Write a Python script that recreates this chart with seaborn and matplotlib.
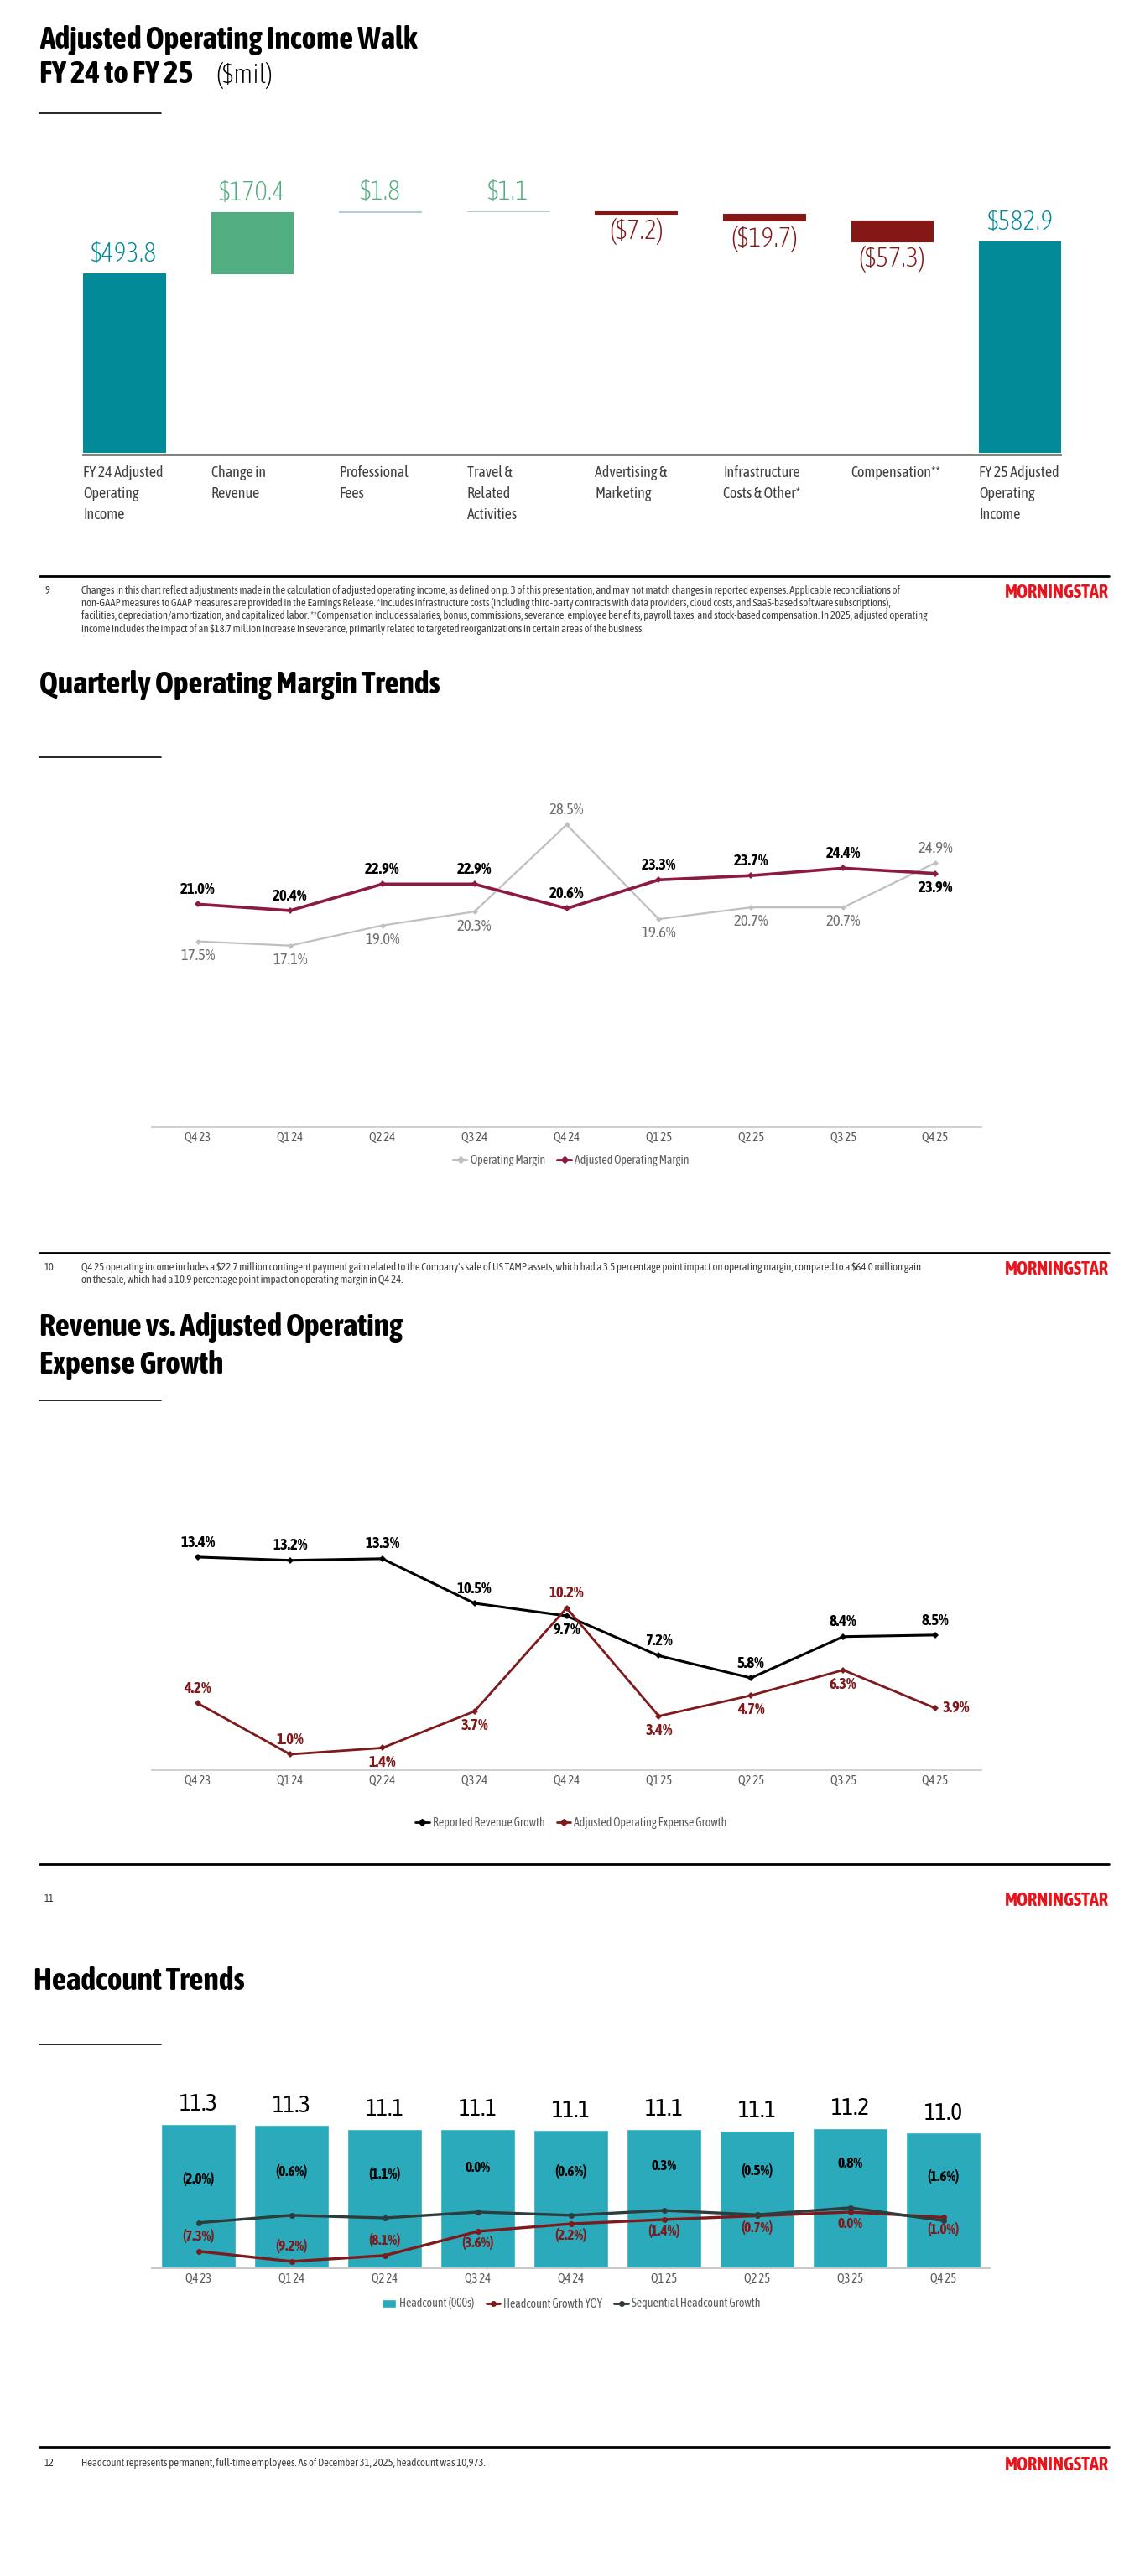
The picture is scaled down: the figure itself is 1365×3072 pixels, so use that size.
import matplotlib
matplotlib.use("Agg")
import matplotlib.pyplot as plt
import numpy as np
import seaborn as sns
from matplotlib.lines import Line2D
from matplotlib.patches import Patch

# ---------------------------------------------------------------------------
# Data
# ---------------------------------------------------------------------------
walk_labels = [
    "FY 24 Adjusted\nOperating\nIncome", "Change in\nRevenue", "Professional\nFees",
    "Travel &\nRelated\nActivities", "Advertising &\nMarketing",
    "Infrastructure\nCosts & Other*", "Compensation**", "FY 25 Adjusted\nOperating\nIncome",
]
walk_values = [493.8, 170.4, 1.8, 1.1, -7.2, -19.7, -57.3, 582.9]
walk_kind = ["total", "step", "step", "step", "step", "step", "step", "total"]

quarters = ["Q4 23", "Q1 24", "Q2 24", "Q3 24", "Q4 24", "Q1 25", "Q2 25", "Q3 25", "Q4 25"]
op_margin = [17.5, 17.1, 19.0, 20.3, 28.5, 19.6, 20.7, 20.7, 24.9]
adj_op_margin = [21.0, 20.4, 22.9, 22.9, 20.6, 23.3, 23.7, 24.4, 23.9]
rev_growth = [13.4, 13.2, 13.3, 10.5, 9.7, 7.2, 5.8, 8.4, 8.5]
opex_growth = [4.2, 1.0, 1.4, 3.7, 10.2, 3.4, 4.7, 6.3, 3.9]
headcount = [11.34, 11.28, 11.14, 11.14, 11.08, 11.12, 11.06, 11.16, 10.97]
hc_yoy = [-7.3, -9.2, -8.1, -3.6, -2.2, -1.4, -0.7, 0.0, -1.0]
hc_seq = [-2.0, -0.6, -1.1, 0.0, -0.6, 0.3, -0.5, 0.8, -1.6]

# label placement (style, not data)
adj_place = ["above"] * 8 + ["below"]
op_place = ["below", "below", "below", "below", "above", "below", "below", "below", "above"]
rev_place = ["above"] * 4 + ["below"] + ["above"] * 4
opex_place = ["above", "above", "below", "below", "above", "below", "below", "below", "right"]
yoy_place = ["above", "above", "above"] + ["below"] * 6

# colours
TEAL = "#028a98"
GREEN = "#52ae80"
PALE = "#b7ccd2"
DARKRED = "#861717"
ADJ = "#8b1a3d"
GRAY_LINE = "#c0c0c0"
EXP_RED = "#7e1a1c"
BAR4 = "#2aaabb"
SEQ = "#2f3c3c"
LOGO = "#e8141b"
TICK = "#595959"
TXT = "#404040"

FONT = ["Asap Condensed", "DejaVu Sans"]
sns.set_theme(style="white")
plt.rcParams["font.family"] = FONT

W, H = 1365, 3072
fig = plt.figure(figsize=(W / 100, H / 100), dpi=100)


def px_axes(left, top, right, bottom):
    return fig.add_axes([left / W, 1 - bottom / H, (right - left) / W, (bottom - top) / H])


def px_text(x, y, s, **kw):
    return fig.text(x / W, 1 - y / H, s, **kw)


def hline(x0, x1, y, lw, color="black"):
    fig.add_artist(Line2D([x0 / W, x1 / W], [1 - y / H] * 2, color=color, lw=lw))


def clean(ax, spine_color="#d0d0d0"):
    for s in ["top", "left", "right"]:
        ax.spines[s].set_visible(False)
    ax.spines["bottom"].set_color(spine_color)
    ax.spines["bottom"].set_linewidth(1.4)
    ax.set_yticks([])
    ax.set_xlabel("")
    ax.set_ylabel("")


def label_points(ax, xs, ys, texts, places, color, weight="bold", size=13.5, gap=6):
    for x, y, t, p in zip(xs, ys, texts, places):
        if p == "above":
            off, va, ha = (0, gap), "bottom", "center"
        elif p == "below":
            off, va, ha = (0, -gap), "top", "center"
        else:
            off, va, ha = (gap, 0), "center", "left"
        ax.annotate(t, (x, y), xytext=off, textcoords="offset points",
                    ha=ha, va=va, color=color, fontsize=size, fontweight=weight)


def footer(y_rule, y_text, page, note):
    hline(47, 1322, y_rule, 2.0)
    px_text(53, y_text, page, fontsize=9, color="#333333", va="top")
    if note:
        px_text(97, y_text, note, fontsize=9.2, color=TXT, va="top", linespacing=1.22)
    px_text(1322, y_text - 2, "MORNINGSTAR", fontsize=16, color=LOGO,
            fontweight="bold", ha="right", va="top")


def title(x, y, s, size=27):
    px_text(x, y, s, fontsize=size, fontweight="bold", color="black", va="baseline")


def legend(handles, labels, y):
    fig.legend(handles, labels, loc="center", bbox_to_anchor=(681 / W, 1 - y / H),
               ncol=len(labels), frameon=False, fontsize=10, handlelength=1.2,
               handletextpad=0.3, columnspacing=1.0, labelcolor=TICK)


# shared layout of the quarterly charts
Q_LEFT, Q_RIGHT = 181, 1170

# ---------------------------------------------------------------------------
# 1. Adjusted operating income walk
# ---------------------------------------------------------------------------
title(47, 58, "Adjusted Operating Income Walk")
title(47, 99, "FY 24 to FY 25")
px_text(257, 99, "($mil)", fontsize=23, fontweight="light", color="black", va="baseline")
hline(47, 192, 135, 1.2)

bottoms, heights = [], []
run = 0.0
for kind, v in zip(walk_kind, walk_values):
    if kind == "total":
        bottoms.append(0.0)
        heights.append(v)
        run = v
    else:
        start = run
        run = run + v
        bottoms.append(min(start, run))
        heights.append(abs(v))

bar_colors = [TEAL, GREEN, PALE, PALE, DARKRED, DARKRED, DARKRED, TEAL]
text_colors = [TEAL, GREEN, GREEN, GREEN, DARKRED, DARKRED, DARKRED, TEAL]

ax1 = px_axes(99, 542.5 - 769 * 0.4304, 1265, 542.5)
xpos = np.arange(len(walk_values))
ax1.bar(xpos, heights, bottom=bottoms, width=0.64, color=bar_colors,
        edgecolor=bar_colors, linewidth=0.8)
ax1.set_xlim(-0.32, len(walk_values) - 1 + 0.32)
ax1.set_ylim(-9, 760)
clean(ax1, "#808080")
ax1.set_xticks([])
for i, (v, b, h) in enumerate(zip(walk_values, bottoms, heights)):
    txt = f"(${abs(v):.1f})" if v < 0 else f"${v:.1f}"
    if v < 0:
        ax1.annotate(txt, (i, b), xytext=(0, -4), textcoords="offset points",
                     ha="center", va="top", fontsize=23, fontweight="light",
                     color=text_colors[i])
    else:
        ax1.annotate(txt, (i, b + h), xytext=(0, 5), textcoords="offset points",
                     ha="center", va="bottom", fontsize=23, fontweight="light",
                     color=text_colors[i])
    ax1.annotate(walk_labels[i], (i - 0.32, 0), xycoords=("data", "axes fraction"),
                 xytext=(0, -9), textcoords="offset points", ha="left", va="top",
                 fontsize=13, color=TXT, linespacing=1.5)

footer(687, 698, "9",
       "Changes in this chart reflect adjustments made in the calculation of adjusted operating income, as defined on p. 3 of this presentation, and may not match changes in reported expenses. Applicable reconciliations of\n"
       "non-GAAP measures to GAAP measures are provided in the Earnings Release. *Includes infrastructure costs (including third-party contracts with data providers, cloud costs, and SaaS-based software subscriptions),\n"
       "facilities, depreciation/amortization, and capitalized labor. **Compensation includes salaries, bonus, commissions, severance, employee benefits, payroll taxes, and stock-based compensation. In 2025, adjusted operating\n"
       "income includes the impact of an \\$18.7 million increase in severance, primarily related to targeted reorganizations in certain areas of the business.")

# ---------------------------------------------------------------------------
# 2. Quarterly operating margin trends
# ---------------------------------------------------------------------------
title(47, 827, "Quarterly Operating Margin Trends")
hline(47, 192, 903, 1.2)

pos = np.arange(len(quarters))
ax2 = px_axes(Q_LEFT, 940, Q_RIGHT, 1344)
sns.lineplot(x=pos, y=op_margin, ax=ax2, color=GRAY_LINE, linewidth=1.6,
             marker="D", markersize=3.5, markeredgewidth=0)
sns.lineplot(x=pos, y=adj_op_margin, ax=ax2, color=ADJ, linewidth=2.6,
             marker="D", markersize=4.5, markeredgewidth=0)
ax2.set_xlim(-0.5, len(quarters) - 0.5)
ax2.set_ylim(0, (1344 - 940) / 12.65)
clean(ax2)
ax2.set_xticks(pos, quarters)
ax2.tick_params(axis="x", length=0, pad=4, labelsize=10.5, labelcolor=TICK)
label_points(ax2, pos, adj_op_margin, [f"{v:.1f}%" for v in adj_op_margin], adj_place, "black")
label_points(ax2, pos, op_margin, [f"{v:.1f}%" for v in op_margin], op_place, "#6f6f6f",
             weight="normal")
legend([Line2D([], [], color=GRAY_LINE, marker="D", ms=4, lw=1.5),
        Line2D([], [], color=ADJ, marker="D", ms=4, lw=2)],
       ["Operating Margin", "Adjusted Operating Margin"], 1384)

footer(1494, 1505, "10",
       "Q4 25 operating income includes a \\$22.7 million contingent payment gain related to the Company's sale of US TAMP assets, which had a 3.5 percentage point impact on operating margin, compared to a \\$64.0 million gain\n"
       "on the sale, which had a 10.9 percentage point impact on operating margin in Q4 24.")

# ---------------------------------------------------------------------------
# 3. Revenue vs adjusted operating expense growth
# ---------------------------------------------------------------------------
title(47, 1593, "Revenue vs. Adjusted Operating")
title(47, 1638, "Expense Growth")
hline(47, 192, 1670, 1.2)

ax3 = px_axes(Q_LEFT, 1820, Q_RIGHT, 2111)
sns.lineplot(x=pos, y=rev_growth, ax=ax3, color="black", linewidth=2.2,
             marker="D", markersize=4, markeredgewidth=0)
sns.lineplot(x=pos, y=opex_growth, ax=ax3, color=EXP_RED, linewidth=2.0,
             marker="D", markersize=4, markeredgewidth=0)
ax3.set_xlim(-0.5, len(quarters) - 0.5)
ax3.set_ylim(0, (2111 - 1820) / 18.96)
clean(ax3)
ax3.set_xticks(pos, quarters)
ax3.tick_params(axis="x", length=0, pad=4, labelsize=10.5, labelcolor=TICK)
label_points(ax3, pos, rev_growth, [f"{v:.1f}%" for v in rev_growth], rev_place, "black")
label_points(ax3, pos, opex_growth, [f"{v:.1f}%" for v in opex_growth], opex_place, EXP_RED)
legend([Line2D([], [], color="black", marker="D", ms=4, lw=2),
        Line2D([], [], color=EXP_RED, marker="D", ms=4, lw=2)],
       ["Reported Revenue Growth", "Adjusted Operating Expense Growth"], 2174)

footer(2223, 2258, "11", "")

# ---------------------------------------------------------------------------
# 4. Headcount trends
# ---------------------------------------------------------------------------
title(40, 2373, "Headcount Trends")
hline(47, 192, 2438, 1.2)

ax4 = px_axes(Q_LEFT, 2470, 1180, 2705)
sns.barplot(x=quarters, y=headcount, ax=ax4, color=BAR4, saturation=1, width=0.8,
            errorbar=None)
ax4.set_ylim(5.4, 5.4 + (2705 - 2470) / 29)
for i, v in enumerate(headcount):
    ax4.annotate(f"{v:.1f}", (i, v), xytext=(0, 7), textcoords="offset points",
                 ha="center", va="bottom", fontsize=21, color="black")
ax4b = ax4.twinx()
sns.lineplot(x=pos, y=hc_yoy, ax=ax4b, color=EXP_RED, linewidth=2.4,
             marker="o", markersize=5, markeredgewidth=0)
sns.lineplot(x=pos, y=hc_seq, ax=ax4b, color=SEQ, linewidth=2.4,
             marker="o", markersize=5, markeredgewidth=0)
ax4b.set_ylim(-10.47, -10.47 + (2705 - 2470) / 6.4)
ax4.set_xlim(-0.5, len(quarters) - 0.5)
clean(ax4, "#c8c8c8")
for s in ["top", "left", "right", "bottom"]:
    ax4b.spines[s].set_visible(False)
ax4b.set_yticks([])
ax4b.set_ylabel("")
ax4.tick_params(axis="x", length=0, pad=4, labelsize=10.5, labelcolor=TICK)


def pct(v):
    return f"({abs(v):.1f}%)" if v < 0 else f"{v:.1f}%"


for i, v in enumerate(hc_seq):
    ax4b.annotate(pct(v), (i, v), xytext=(0, 38), textcoords="offset points",
                  ha="center", va="center", color="black", fontsize=12.5, fontweight="bold")
for i, (v, p) in enumerate(zip(hc_yoy, yoy_place)):
    ax4b.annotate(pct(v), (i, v), xytext=(0, 13 if p == "above" else -10),
                  textcoords="offset points", ha="center", va="center",
                  color=EXP_RED, fontsize=12.5, fontweight="bold")
legend([Patch(facecolor=BAR4),
        Line2D([], [], color=EXP_RED, marker="o", ms=4, lw=2),
        Line2D([], [], color=SEQ, marker="o", ms=4, lw=2)],
       ["Headcount (000s)", "Headcount Growth YOY", "Sequential Headcount Growth"], 2747)

footer(2918, 2931, "12",
       "Headcount represents permanent, full-time employees. As of December 31, 2025, headcount was 10,973.")

fig.savefig("out.png", dpi=100)
